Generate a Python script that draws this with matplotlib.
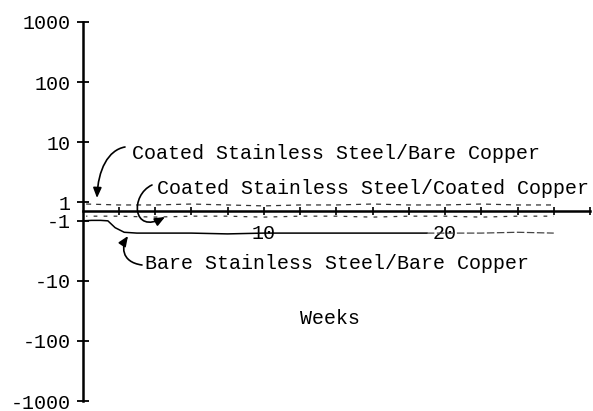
import numpy as np
import matplotlib.pyplot as plt
import matplotlib.transforms as mtransforms
from matplotlib.patches import FancyArrowPatch
from matplotlib.path import Path

plt.rcParams['font.family'] = ['Liberation Mono', 'DejaVu Sans Mono']
plt.rcParams['font.size'] = 14.4

# data (weeks vs. signed value on symlog axis)
weeks = [0.2, 2, 4, 6, 8, 10, 12, 14, 16, 18, 20, 22, 24, 26]
coated_ss_bare_cu = [0.8, 0.7, 0.7, 0.8, 0.7, 0.6, 0.7, 0.7, 0.8, 0.7, 0.7, 0.8, 0.7, 0.7]
coated_ss_coated_cu = [-0.5, -0.5, -0.6, -0.5, -0.5, -0.6, -0.5, -0.5, -0.6, -0.5, -0.5, -0.6, -0.5, -0.5]

bare_weeks = [0, 0.5, 1, 1.4, 1.8, 2.3, 3, 4, 6, 8, 10, 12, 14, 16, 18, 19]
bare_ss_bare_cu = [-1.0, -0.95, -0.95, -1.0, -1.3, -1.55, -1.6, -1.6, -1.6, -1.65, -1.6, -1.6, -1.6, -1.6, -1.6, -1.6]
bare_tail_weeks = [19, 20, 22, 24, 26]
bare_tail = [-1.6, -1.6, -1.6, -1.55, -1.6]

y_ticks = [1000, 100, 10, 1, -1, -10, -100, -1000]
y_labels = ['1000', '100', '10', '1', '-1', '-10', '-100', '-1000']
x_ticks = [2, 4, 6, 8, 10, 12, 14, 16, 18, 20, 22, 24, 26, 28]
x_labels = ['', '', '', '', '10', '', '', '', '', '20', '', '', '', '']

W, H = 593, 411
fig = plt.figure(figsize=(W / 100, H / 100), dpi=100)
ax = fig.add_axes([82.5 / W, 10 / H, 507.5 / W, 379 / H])

# image-pixel coordinates (origin top-left) for the hand-drawn labels
pix = mtransforms.Affine2D().scale(1, -1).translate(0, H).scale(1 / W, 1 / H) + fig.transFigure

ax.set_yscale('symlog', linthresh=1, linscale=0.14)
ax.set_ylim(-1000, 1000)
ax.set_xlim(0, 28)

ax.plot(weeks, coated_ss_bare_cu, color='#333333', lw=0.9, ls=(0, (4, 4)))
ax.plot(weeks, coated_ss_coated_cu, color='#333333', lw=0.9, ls=(2, (3, 5)))
ax.plot(bare_weeks, bare_ss_bare_cu, color='black', lw=1.1)
ax.plot(bare_tail_weeks, bare_tail, color='#444444', lw=0.9, ls=(0, (6, 2)))

for s in ['top', 'right']:
    ax.spines[s].set_visible(False)
ax.spines['left'].set_position(('data', 0))
ax.spines['bottom'].set_position(('data', 0))
ax.spines['left'].set_linewidth(1.8)
ax.spines['bottom'].set_linewidth(1.8)

ax.set_yticks(y_ticks)
ax.set_yticklabels(y_labels)
ax.yaxis.set_minor_locator(plt.NullLocator())
ax.tick_params(axis='y', direction='inout', length=9, width=1.3, pad=4)

ax.set_xticks(x_ticks)
ax.set_xticklabels(x_labels)
ax.tick_params(axis='x', direction='inout', length=6, width=1.2, pad=6)

fig.text(330, 318, 'Weeks', transform=pix, ha='center', va='center')
fig.text(132, 153, 'Coated Stainless Steel/Bare Copper', transform=pix, va='center', ha='left')
fig.text(157, 188, 'Coated Stainless Steel/Coated Copper', transform=pix, va='center', ha='left')
fig.text(145, 263, 'Bare Stainless Steel/Bare Copper', transform=pix, va='center', ha='left')

curves = [
    [(125, 147), (108, 150), (98, 170), (97, 198)],
    [(152, 185), (130, 195), (132, 235), (165, 217)],
    [(142, 265), (120, 262), (122, 245), (128, 236)],
]
for pts in curves:
    p = Path(pts, [Path.MOVETO, Path.CURVE4, Path.CURVE4, Path.CURVE4])
    fig.add_artist(FancyArrowPatch(path=p, transform=pix, color='black', lw=1.2,
                                   arrowstyle='-|>,head_length=6,head_width=2.5'))

fig.savefig('out.png', dpi=100)
